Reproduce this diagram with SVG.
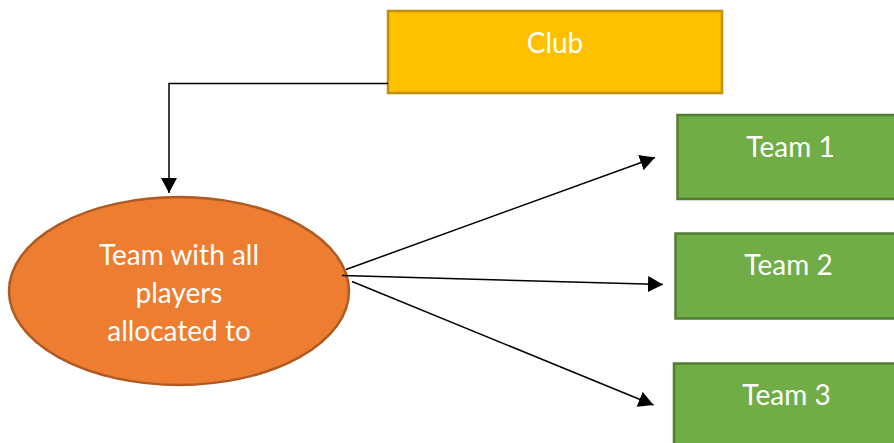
<svg xmlns="http://www.w3.org/2000/svg" width="894" height="443" viewBox="0 0 894 443">
<defs>
<style>
.lbl{font-family:Lato,"Open Sans","Liberation Sans",sans-serif;font-size:28px;fill:#ffffff;text-anchor:middle}
.club{fill:#FFC000;stroke:#BF9000;stroke-width:2.5}
.team{fill:#70AD47;stroke:#507E32;stroke-width:2.5}
.oval{fill:#ED7D31;stroke:#AE5A21;stroke-width:2.5}
.conn{fill:none;stroke:#000000;stroke-width:1.5}
</style>
<marker id="arr" markerUnits="userSpaceOnUse" markerWidth="16" markerHeight="16" refX="15" refY="8" orient="auto">
<path d="M0,0 L15,8 L0,16 z" fill="#000000"/>
</marker>
</defs>
<g id="club">
<rect class="club" x="388" y="11" width="334" height="82"/>
<text class="lbl" x="555" y="53">Club</text>
</g>
<g id="pool">
<ellipse class="oval" cx="179" cy="291" rx="170" ry="94"/>
<text class="lbl" x="179" y="265">Team with all</text>
<text class="lbl" x="179" y="303">players</text>
<text class="lbl" x="179" y="341">allocated to</text>
</g>
<g id="team1">
<rect class="team" x="677.5" y="115" width="226" height="84"/>
<text class="lbl" x="790.5" y="157">Team 1</text>
</g>
<g id="team2">
<rect class="team" x="675.5" y="233.5" width="226" height="85"/>
<text class="lbl" x="788.5" y="275">Team 2</text>
</g>
<g id="team3">
<rect class="team" x="674" y="363.5" width="226" height="90"/>
<text class="lbl" x="786.5" y="405">Team 3</text>
</g>
<g id="connectors">
<path class="conn" d="M388,83.5 H169 V193" marker-end="url(#arr)"/>
<path class="conn" d="M346,269.5 L655,157.5" marker-end="url(#arr)"/>
<path class="conn" d="M342,275.5 L663,284.5" marker-end="url(#arr)"/>
<path class="conn" d="M352,281.5 L653.5,405" marker-end="url(#arr)"/>
</g>
</svg>
